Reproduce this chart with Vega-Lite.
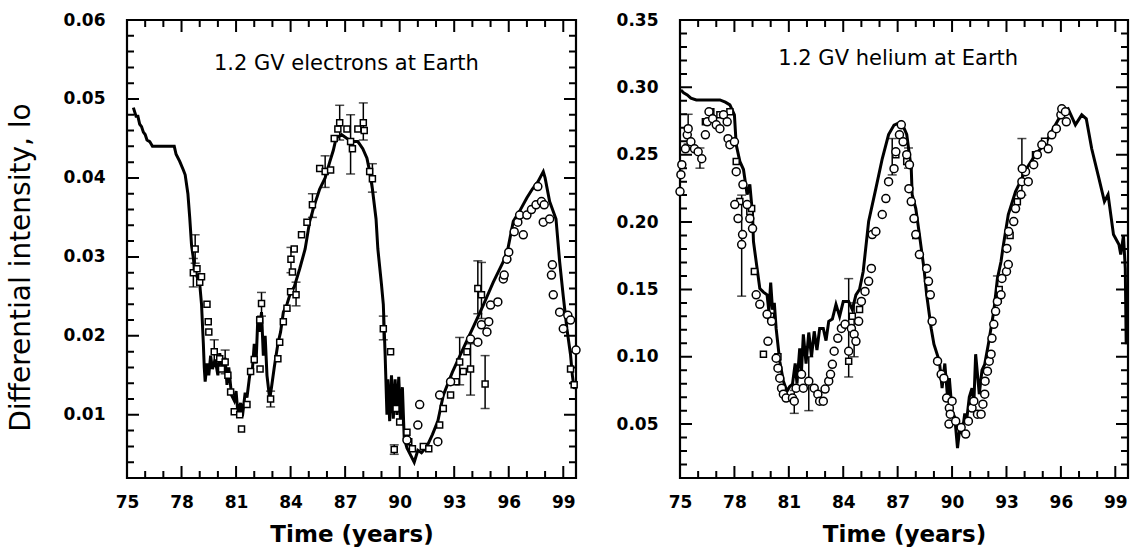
{
  "$schema": "https://vega.github.io/schema/vega-lite/v6.json",
  "padding": {"left": 5, "top": 9, "right": 0, "bottom": 0},
  "background": "white",
  "spacing": 29,
  "config": {
    "view": {"stroke": "black", "strokeWidth": 2.2},
    "axis": {
      "grid": false, "domain": false, "ticks": false,
      "labelFont": "DejaVu Sans", "labelFontWeight": "bold", "labelFontSize": 17, "labelColor": "black",
      "labelOverlap": false, "labelFlush": false, "titleColor": "black"
    }
  },
  "datasets": {
    "xmaj": [{"t":75},{"t":78},{"t":81},{"t":84},{"t":87},{"t":90},{"t":93},{"t":96},{"t":99}],
    "xmin": [{"t":76},{"t":77},{"t":79},{"t":80},{"t":82},{"t":83},{"t":85},{"t":86},{"t":88},{"t":89},{"t":91},{"t":92},{"t":94},{"t":95},{"t":97},{"t":98}],
    "eymaj": [{"v":0.01},{"v":0.02},{"v":0.03},{"v":0.04},{"v":0.05}],
    "eymin": [{"v":0.004},{"v":0.006},{"v":0.008},{"v":0.012},{"v":0.014},{"v":0.016},{"v":0.018},{"v":0.022},{"v":0.024},{"v":0.026},{"v":0.028},{"v":0.032},{"v":0.034},{"v":0.036},{"v":0.038},{"v":0.042},{"v":0.044},{"v":0.046},{"v":0.048},{"v":0.052},{"v":0.054},{"v":0.056},{"v":0.058}],
    "hymaj": [{"v":0.05},{"v":0.1},{"v":0.15},{"v":0.2},{"v":0.25},{"v":0.3}],
    "hymin": [{"v":0.02},{"v":0.03},{"v":0.04},{"v":0.06},{"v":0.07},{"v":0.08},{"v":0.09},{"v":0.11},{"v":0.12},{"v":0.13},{"v":0.14},{"v":0.16},{"v":0.17},{"v":0.18},{"v":0.19},{"v":0.21},{"v":0.22},{"v":0.23},{"v":0.24},{"v":0.26},{"v":0.27},{"v":0.28},{"v":0.29},{"v":0.31},{"v":0.32},{"v":0.33},{"v":0.34}],
    "eline": [
      {"t":75.35,"v":0.0489},{"t":75.5,"v":0.0478},{"t":75.6,"v":0.0478},{"t":75.7,"v":0.0468},{"t":75.8,"v":0.0465},{"t":75.9,"v":0.0458},{"t":76.0,"v":0.0455},{"t":76.1,"v":0.0448},{"t":76.25,"v":0.0446},{"t":76.4,"v":0.044},{"t":77.0,"v":0.044},{"t":77.6,"v":0.044},{"t":77.7,"v":0.043},{"t":77.9,"v":0.0421},{"t":78.1,"v":0.041},{"t":78.2,"v":0.0404},{"t":78.35,"v":0.038},{"t":78.45,"v":0.035},{"t":78.55,"v":0.0315},{"t":78.7,"v":0.029},{"t":78.85,"v":0.0275},{"t":79.0,"v":0.0266},{"t":79.1,"v":0.024},{"t":79.2,"v":0.019},{"t":79.25,"v":0.016},{"t":79.3,"v":0.0142},{"t":79.4,"v":0.0165},{"t":79.5,"v":0.015},{"t":79.6,"v":0.0175},{"t":79.7,"v":0.0158},{"t":79.85,"v":0.017},{"t":80.0,"v":0.015},{"t":80.1,"v":0.0178},{"t":80.25,"v":0.016},{"t":80.4,"v":0.0172},{"t":80.5,"v":0.0138},{"t":80.6,"v":0.016},{"t":80.75,"v":0.0125},{"t":80.9,"v":0.0118},{"t":81.0,"v":0.013},{"t":81.1,"v":0.0102},{"t":81.25,"v":0.0115},{"t":81.35,"v":0.0098},{"t":81.5,"v":0.0128},{"t":81.6,"v":0.0122},{"t":81.75,"v":0.015},{"t":81.9,"v":0.0158},{"t":82.0,"v":0.019},{"t":82.1,"v":0.0165},{"t":82.2,"v":0.0225},{"t":82.3,"v":0.0205},{"t":82.4,"v":0.023},{"t":82.5,"v":0.0175},{"t":82.6,"v":0.02},{"t":82.7,"v":0.015},{"t":82.85,"v":0.012},{"t":82.95,"v":0.0135},{"t":83.1,"v":0.016},{"t":83.3,"v":0.019},{"t":83.45,"v":0.0205},{"t":83.6,"v":0.023},{"t":83.8,"v":0.024},{"t":84.0,"v":0.0255},{"t":84.2,"v":0.0262},{"t":84.5,"v":0.0285},{"t":84.8,"v":0.031},{"t":85.05,"v":0.0345},{"t":85.3,"v":0.0365},{"t":85.6,"v":0.0386},{"t":85.9,"v":0.04},{"t":86.15,"v":0.042},{"t":86.35,"v":0.0435},{"t":86.5,"v":0.045},{"t":86.8,"v":0.0455},{"t":87.1,"v":0.045},{"t":87.4,"v":0.0446},{"t":87.7,"v":0.0446},{"t":87.97,"v":0.0437},{"t":88.2,"v":0.0425},{"t":88.35,"v":0.0408},{"t":88.5,"v":0.0386},{"t":88.7,"v":0.0348},{"t":88.8,"v":0.031},{"t":89.0,"v":0.0265},{"t":89.1,"v":0.024},{"t":89.2,"v":0.0176},{"t":89.3,"v":0.01},{"t":89.35,"v":0.0145},{"t":89.45,"v":0.0092},{"t":89.55,"v":0.015},{"t":89.65,"v":0.0095},{"t":89.75,"v":0.0145},{"t":89.85,"v":0.01},{"t":89.95,"v":0.0148},{"t":90.05,"v":0.009},{"t":90.15,"v":0.0135},{"t":90.25,"v":0.007},{"t":90.4,"v":0.0058},{"t":90.6,"v":0.0049},{"t":90.8,"v":0.004},{"t":91.0,"v":0.0055},{"t":91.2,"v":0.0052},{"t":91.5,"v":0.006},{"t":91.8,"v":0.0075},{"t":92.1,"v":0.0092},{"t":92.4,"v":0.0125},{"t":92.9,"v":0.0154},{"t":93.5,"v":0.0184},{"t":94.0,"v":0.0209},{"t":94.6,"v":0.0239},{"t":95.15,"v":0.0268},{"t":95.7,"v":0.0294},{"t":95.95,"v":0.031},{"t":96.25,"v":0.0345},{"t":96.6,"v":0.0358},{"t":97.0,"v":0.0375},{"t":97.3,"v":0.0386},{"t":97.6,"v":0.0395},{"t":97.9,"v":0.0408},{"t":98.0,"v":0.04},{"t":98.25,"v":0.037},{"t":98.6,"v":0.0348},{"t":98.8,"v":0.0294},{"t":99.0,"v":0.025},{"t":99.2,"v":0.0209},{"t":99.4,"v":0.0176},{"t":99.5,"v":0.015},{"t":99.6,"v":0.0133},{"t":99.7,"v":0.014}
    ],
    "esq": [
      {"t":78.65,"v":0.028},{"t":78.75,"v":0.031},{"t":78.85,"v":0.0285},{"t":79.0,"v":0.0268},{"t":79.1,"v":0.0275},{"t":79.4,"v":0.024},{"t":79.47,"v":0.0218},{"t":79.5,"v":0.0205},{"t":79.8,"v":0.018},{"t":80.1,"v":0.0171},{"t":80.2,"v":0.0158},{"t":80.4,"v":0.0167},{"t":80.55,"v":0.015},{"t":80.7,"v":0.0129},{"t":80.9,"v":0.0104},{"t":81.2,"v":0.01},{"t":81.3,"v":0.0082},{"t":81.6,"v":0.0113},{"t":81.8,"v":0.0155},{"t":82.0,"v":0.017},{"t":82.3,"v":0.022},{"t":82.4,"v":0.0241},{"t":82.32,"v":0.0158},{"t":82.9,"v":0.012},{"t":83.3,"v":0.0171},{"t":83.4,"v":0.0192},{"t":83.6,"v":0.0218},{"t":83.8,"v":0.0235},{"t":84.0,"v":0.0256},{"t":84.1,"v":0.0281},{"t":84.3,"v":0.0252},{"t":84.02,"v":0.0297},{"t":84.2,"v":0.031},{"t":84.6,"v":0.0328},{"t":84.9,"v":0.0344},{"t":85.2,"v":0.0366},{"t":85.6,"v":0.0412},{"t":85.9,"v":0.0408},{"t":86.2,"v":0.041},{"t":86.4,"v":0.045},{"t":86.6,"v":0.0462},{"t":86.7,"v":0.047},{"t":87.1,"v":0.0462},{"t":87.3,"v":0.0446},{"t":87.4,"v":0.0437},{"t":87.7,"v":0.0462},{"t":88.0,"v":0.047},{"t":88.05,"v":0.046},{"t":88.35,"v":0.0408},{"t":88.5,"v":0.0399},{"t":89.1,"v":0.0209},{"t":89.5,"v":0.018},{"t":89.8,"v":0.0108},{"t":90.0,"v":0.0091},{"t":89.7,"v":0.0056},{"t":90.4,"v":0.0078},{"t":90.5,"v":0.0066},{"t":90.7,"v":0.0057},{"t":91.3,"v":0.006},{"t":91.6,"v":0.0057},{"t":92.2,"v":0.0087},{"t":92.4,"v":0.0108},{"t":92.8,"v":0.0125},{"t":93.1,"v":0.0142},{"t":93.3,"v":0.0167},{"t":93.5,"v":0.0155},{"t":93.7,"v":0.018},{"t":93.9,"v":0.0158},{"t":94.3,"v":0.026},{"t":94.5,"v":0.0252},{"t":94.7,"v":0.0139},{"t":99.4,"v":0.0158},{"t":99.6,"v":0.0138}
    ],
    "eerr": [
      {"t":78.75,"lo":0.0292,"hi":0.0328},{"t":78.65,"lo":0.0262,"hi":0.0298},{"t":79.8,"lo":0.0165,"hi":0.0195},{"t":80.4,"lo":0.0152,"hi":0.0182},{"t":82.4,"lo":0.0225,"hi":0.0255},{"t":82.9,"lo":0.011,"hi":0.013},{"t":84.3,"lo":0.0238,"hi":0.0268},{"t":84.02,"lo":0.028,"hi":0.0312},{"t":85.2,"lo":0.035,"hi":0.038},{"t":85.9,"lo":0.0388,"hi":0.0428},{"t":86.7,"lo":0.0448,"hi":0.0492},{"t":87.3,"lo":0.0405,"hi":0.048},{"t":88.0,"lo":0.0448,"hi":0.0495},{"t":88.5,"lo":0.0382,"hi":0.0418},{"t":89.1,"lo":0.0195,"hi":0.0225},{"t":89.7,"lo":0.005,"hi":0.0062},{"t":93.3,"lo":0.0138,"hi":0.0198},{"t":93.9,"lo":0.0125,"hi":0.019},{"t":94.3,"lo":0.0228,"hi":0.0295},{"t":94.5,"lo":0.0222,"hi":0.0293},{"t":94.7,"lo":0.0108,"hi":0.0175}
    ],
    "ecirc": [
      {"t":90.4,"v":0.0068},{"t":91.0,"v":0.0087},{"t":91.1,"v":0.0113},{"t":92.1,"v":0.0066},{"t":92.2,"v":0.0125},{"t":92.8,"v":0.0142},{"t":93.9,"v":0.0196},{"t":94.3,"v":0.0192},{"t":94.5,"v":0.0214},{"t":94.8,"v":0.0205},{"t":94.9,"v":0.0218},{"t":95.0,"v":0.0239},{"t":95.4,"v":0.0243},{"t":95.7,"v":0.0272},{"t":95.75,"v":0.0277},{"t":95.9,"v":0.0297},{"t":96.0,"v":0.0306},{"t":96.3,"v":0.0332},{"t":96.5,"v":0.0344},{"t":96.6,"v":0.0353},{"t":96.8,"v":0.0328},{"t":97.0,"v":0.0353},{"t":97.25,"v":0.036},{"t":97.5,"v":0.0366},{"t":97.6,"v":0.0389},{"t":97.8,"v":0.037},{"t":97.95,"v":0.0366},{"t":97.9,"v":0.0344},{"t":98.25,"v":0.0348},{"t":98.35,"v":0.0277},{"t":98.4,"v":0.029},{"t":98.45,"v":0.0252},{"t":98.8,"v":0.023},{"t":99.0,"v":0.0209},{"t":99.25,"v":0.0226},{"t":99.4,"v":0.022},{"t":99.7,"v":0.0182}
    ],
    "etext": [{"t":87.07,"v":0.0544,"label":"1.2 GV electrons at Earth"}],
    "hline": [
      {"t":75.05,"v":0.298},{"t":75.2,"v":0.296},{"t":75.4,"v":0.2944},{"t":75.6,"v":0.292},{"t":75.9,"v":0.2907},{"t":76.5,"v":0.2907},{"t":77.2,"v":0.2907},{"t":77.5,"v":0.289},{"t":77.75,"v":0.287},{"t":78.0,"v":0.2796},{"t":78.1,"v":0.2574},{"t":78.3,"v":0.245},{"t":78.5,"v":0.239},{"t":78.7,"v":0.2204},{"t":78.85,"v":0.228},{"t":79.0,"v":0.2056},{"t":79.05,"v":0.1856},{"t":79.25,"v":0.1656},{"t":79.4,"v":0.1507},{"t":79.6,"v":0.148},{"t":79.8,"v":0.146},{"t":79.9,"v":0.1337},{"t":80.0,"v":0.155},{"t":80.1,"v":0.135},{"t":80.2,"v":0.14},{"t":80.3,"v":0.121},{"t":80.5,"v":0.0967},{"t":80.7,"v":0.0819},{"t":80.9,"v":0.0744},{"t":81.05,"v":0.078},{"t":81.2,"v":0.0796},{"t":81.35,"v":0.095},{"t":81.45,"v":0.08},{"t":81.6,"v":0.1063},{"t":81.7,"v":0.09},{"t":81.8,"v":0.1167},{"t":81.95,"v":0.095},{"t":82.1,"v":0.118},{"t":82.25,"v":0.1},{"t":82.4,"v":0.1189},{"t":82.55,"v":0.105},{"t":82.7,"v":0.121},{"t":82.9,"v":0.121},{"t":83.05,"v":0.112},{"t":83.2,"v":0.1263},{"t":83.4,"v":0.128},{"t":83.6,"v":0.1389},{"t":83.8,"v":0.13},{"t":84.0,"v":0.141},{"t":84.3,"v":0.141},{"t":84.5,"v":0.135},{"t":84.7,"v":0.146},{"t":84.9,"v":0.15},{"t":85.1,"v":0.1633},{"t":85.4,"v":0.2004},{"t":85.8,"v":0.225},{"t":86.15,"v":0.247},{"t":86.5,"v":0.265},{"t":86.8,"v":0.272},{"t":87.2,"v":0.2744},{"t":87.5,"v":0.265},{"t":87.75,"v":0.2396},{"t":87.8,"v":0.2204},{"t":88.0,"v":0.21},{"t":88.2,"v":0.1907},{"t":88.45,"v":0.1656},{"t":88.6,"v":0.146},{"t":88.85,"v":0.121},{"t":89.0,"v":0.1093},{"t":89.3,"v":0.0967},{"t":89.45,"v":0.0767},{"t":89.6,"v":0.095},{"t":89.75,"v":0.07},{"t":89.85,"v":0.0841},{"t":90.0,"v":0.0596},{"t":90.15,"v":0.055},{"t":90.3,"v":0.0322},{"t":90.45,"v":0.05},{"t":90.55,"v":0.0426},{"t":90.7,"v":0.058},{"t":90.8,"v":0.0522},{"t":90.95,"v":0.07},{"t":91.1,"v":0.0767},{"t":91.2,"v":0.065},{"t":91.3,"v":0.1019},{"t":91.5,"v":0.0722},{"t":91.65,"v":0.09},{"t":91.8,"v":0.0944},{"t":92.0,"v":0.1093},{"t":92.3,"v":0.1337},{"t":92.5,"v":0.1581},{"t":92.7,"v":0.1707},{"t":92.8,"v":0.1804},{"t":93.1,"v":0.2056},{"t":93.5,"v":0.2226},{"t":94.1,"v":0.2396},{"t":94.6,"v":0.25},{"t":95.2,"v":0.2596},{"t":95.7,"v":0.2722},{"t":96.1,"v":0.2819},{"t":96.4,"v":0.2841},{"t":96.8,"v":0.2722},{"t":97.15,"v":0.2796},{"t":97.4,"v":0.2767},{"t":97.7,"v":0.2544},{"t":98.1,"v":0.2322},{"t":98.4,"v":0.2152},{"t":98.6,"v":0.2204},{"t":98.9,"v":0.1907},{"t":99.2,"v":0.1833},{"t":99.3,"v":0.1759},{"t":99.45,"v":0.19},{"t":99.55,"v":0.1656},{"t":99.6,"v":0.1093}
    ],
    "hcirc": [
      {"t":75.0,"v":0.2226},{"t":75.05,"v":0.2352},{"t":75.1,"v":0.2426},{"t":75.3,"v":0.2544},{"t":75.4,"v":0.2648},{"t":75.45,"v":0.2693},{"t":75.6,"v":0.2596},{"t":75.8,"v":0.2544},{"t":76.0,"v":0.2522},{"t":76.2,"v":0.247},{"t":76.4,"v":0.2648},{"t":76.5,"v":0.2744},{"t":76.6,"v":0.2819},{"t":76.8,"v":0.2767},{"t":77.0,"v":0.2722},{"t":77.2,"v":0.2693},{"t":77.4,"v":0.2796},{"t":77.6,"v":0.2744},{"t":77.65,"v":0.2619},{"t":77.75,"v":0.2574},{"t":78.0,"v":0.2596},{"t":78.1,"v":0.2374},{"t":78.02,"v":0.213},{"t":78.2,"v":0.2026},{"t":78.45,"v":0.1907},{"t":78.4,"v":0.1833},{"t":78.47,"v":0.2278},{"t":78.7,"v":0.213},{"t":78.85,"v":0.2026},{"t":79.0,"v":0.1952},{"t":79.2,"v":0.146},{"t":79.4,"v":0.1389},{"t":79.8,"v":0.1315},{"t":79.85,"v":0.1115},{"t":80.05,"v":0.1263},{"t":80.3,"v":0.0989},{"t":80.4,"v":0.0915},{"t":80.5,"v":0.0841},{"t":80.6,"v":0.0767},{"t":80.7,"v":0.0722},{"t":80.85,"v":0.0693},{"t":81.2,"v":0.0693},{"t":81.4,"v":0.0767},{"t":81.3,"v":0.067},{"t":81.7,"v":0.087},{"t":81.8,"v":0.0767},{"t":82.1,"v":0.0819},{"t":82.4,"v":0.0767},{"t":82.6,"v":0.0722},{"t":82.7,"v":0.067},{"t":82.9,"v":0.067},{"t":83.0,"v":0.076},{"t":83.2,"v":0.0819},{"t":83.3,"v":0.087},{"t":83.4,"v":0.0944},{"t":83.5,"v":0.1041},{"t":83.7,"v":0.1137},{"t":83.9,"v":0.121},{"t":84.1,"v":0.1241},{"t":84.3,"v":0.1041},{"t":84.45,"v":0.121},{"t":84.6,"v":0.1167},{"t":84.7,"v":0.1115},{"t":84.85,"v":0.1263},{"t":85.0,"v":0.1411},{"t":85.2,"v":0.1485},{"t":85.4,"v":0.156},{"t":85.55,"v":0.1656},{"t":85.6,"v":0.1907},{"t":85.8,"v":0.193},{"t":86.15,"v":0.2056},{"t":86.35,"v":0.2174},{"t":86.5,"v":0.23},{"t":86.8,"v":0.2396},{"t":86.9,"v":0.2522},{"t":87.1,"v":0.2648},{"t":87.2,"v":0.2722},{"t":87.3,"v":0.2596},{"t":87.5,"v":0.25},{"t":87.65,"v":0.2426},{"t":87.62,"v":0.2248},{"t":87.75,"v":0.2152},{"t":87.9,"v":0.2026},{"t":88.0,"v":0.1907},{"t":88.2,"v":0.1759},{"t":88.6,"v":0.1656},{"t":88.7,"v":0.156},{"t":88.8,"v":0.146},{"t":88.9,"v":0.1263},{"t":89.2,"v":0.0967},{"t":89.4,"v":0.087},{"t":89.55,"v":0.0841},{"t":89.7,"v":0.0693},{"t":89.85,"v":0.0619},{"t":89.9,"v":0.0574},{"t":89.83,"v":0.05},{"t":90.0,"v":0.067},{"t":90.2,"v":0.0522},{"t":90.5,"v":0.0474},{"t":90.75,"v":0.0426},{"t":90.9,"v":0.0522},{"t":91.1,"v":0.0619},{"t":91.2,"v":0.067},{"t":91.4,"v":0.0574},{"t":91.6,"v":0.0574},{"t":91.7,"v":0.0648},{"t":91.8,"v":0.0722},{"t":91.82,"v":0.0819},{"t":91.95,"v":0.0893},{"t":92.05,"v":0.0967},{"t":92.15,"v":0.1019},{"t":92.2,"v":0.1137},{"t":92.3,"v":0.1241},{"t":92.4,"v":0.1337},{"t":92.5,"v":0.1411},{"t":92.7,"v":0.146},{"t":92.75,"v":0.1581},{"t":93.0,"v":0.1633},{"t":93.1,"v":0.1685},{"t":93.02,"v":0.1804},{"t":93.12,"v":0.193},{"t":93.4,"v":0.2004},{"t":93.5,"v":0.21},{"t":93.8,"v":0.2204},{"t":93.85,"v":0.23},{"t":94.05,"v":0.2374},{"t":93.87,"v":0.2396},{"t":94.2,"v":0.23},{"t":94.5,"v":0.2426},{"t":94.7,"v":0.25},{"t":94.95,"v":0.2574},{"t":95.3,"v":0.2544},{"t":95.5,"v":0.2648},{"t":95.75,"v":0.2693},{"t":96.0,"v":0.2796},{"t":96.05,"v":0.2841},{"t":96.25,"v":0.2819},{"t":96.3,"v":0.2744}
    ],
    "hsq": [
      {"t":76.4,"v":0.2744},{"t":76.7,"v":0.2819},{"t":77.2,"v":0.2796},{"t":77.75,"v":0.2819},{"t":78.1,"v":0.245},{"t":78.3,"v":0.2152},{"t":78.85,"v":0.2078},{"t":78.95,"v":0.21},{"t":79.1,"v":0.1633},{"t":79.6,"v":0.1019},{"t":80.0,"v":0.13},{"t":80.4,"v":0.1},{"t":84.3,"v":0.0967},{"t":84.5,"v":0.13},{"t":84.9,"v":0.135},{"t":86.9,"v":0.25},{"t":87.5,"v":0.245},{"t":88.0,"v":0.19},{"t":92.6,"v":0.15},{"t":93.2,"v":0.19},{"t":93.6,"v":0.215},{"t":94.6,"v":0.25},{"t":95.1,"v":0.26}
    ],
    "herr": [
      {"t":75.45,"lo":0.258,"hi":0.28},{"t":76.1,"lo":0.24,"hi":0.255},{"t":78.4,"lo":0.145,"hi":0.22},{"t":81.3,"lo":0.058,"hi":0.075},{"t":82.1,"lo":0.06,"hi":0.1},{"t":84.3,"lo":0.085,"hi":0.158},{"t":84.6,"lo":0.1,"hi":0.14},{"t":86.7,"lo":0.235,"hi":0.262},{"t":87.6,"lo":0.24,"hi":0.255},{"t":93.85,"lo":0.22,"hi":0.262},{"t":92.5,"lo":0.14,"hi":0.16}
    ],
    "htext": [{"t":87.03,"v":0.321,"label":"1.2 GV helium at Earth"}]
  },
  "hconcat": [
    {
      "width": 449, "height": 458,
      "layer": [
        {
          "data": {"name": "xmaj"},
          "mark": {"type": "rule", "color": "black", "strokeWidth": 2, "strokeDash": [12, 434, 12, 3000]},
          "encoding": {
            "x": {"field": "t", "type": "quantitative", "scale": {"domain": [75, 99.7], "nice": false, "zero": false}},
            "y": {"datum": 0.002, "type": "quantitative", "scale": {"domain": [0.002, 0.06], "nice": false, "zero": false}},
            "y2": {"datum": 0.06}
          }
        },
        {
          "data": {"name": "xmin"},
          "mark": {"type": "rule", "color": "black", "strokeWidth": 2, "strokeDash": [7, 444, 7, 3000]},
          "encoding": {
            "x": {"field": "t", "type": "quantitative", "scale": {"domain": [75, 99.7], "nice": false, "zero": false}},
            "y": {"datum": 0.002, "type": "quantitative", "scale": {"domain": [0.002, 0.06], "nice": false, "zero": false}},
            "y2": {"datum": 0.06}
          }
        },
        {
          "data": {"name": "eymaj"},
          "mark": {"type": "rule", "color": "black", "strokeWidth": 2, "strokeDash": [12, 425, 12, 3000]},
          "encoding": {
            "y": {"field": "v", "type": "quantitative", "scale": {"domain": [0.002, 0.06], "nice": false, "zero": false}},
            "x": {"datum": 75, "type": "quantitative", "scale": {"domain": [75, 99.7], "nice": false, "zero": false}},
            "x2": {"datum": 99.7}
          }
        },
        {
          "data": {"name": "eymin"},
          "mark": {"type": "rule", "color": "black", "strokeWidth": 2, "strokeDash": [7, 435, 7, 3000]},
          "encoding": {
            "y": {"field": "v", "type": "quantitative", "scale": {"domain": [0.002, 0.06], "nice": false, "zero": false}},
            "x": {"datum": 75, "type": "quantitative", "scale": {"domain": [75, 99.7], "nice": false, "zero": false}},
            "x2": {"datum": 99.7}
          }
        },
        {
          "data": {"name": "eline"},
          "mark": {"type": "line", "color": "black", "strokeWidth": 3},
          "encoding": {
            "x": {"field": "t", "type": "quantitative", "scale": {"domain": [75, 99.7], "nice": false, "zero": false},
              "axis": {"orient": "bottom", "values": [75,78,81,84,87,90,93,96,99], "ticks": false, "labelPadding": 16,
                "title": "Time (years)", "titleFont": "DejaVu Sans", "titleFontWeight": "bold", "titleFontSize": 23, "titlePadding": 13}},
            "y": {"field": "v", "type": "quantitative", "scale": {"domain": [0.002, 0.06], "nice": false, "zero": false},
              "axis": {"orient": "left", "values": [0.01,0.02,0.03,0.04,0.05,0.06], "format": ".2f", "ticks": false, "labelPadding": 22,
                "title": "Differential intensity", "titleFont": "DejaVu Sans", "titleFontWeight": "normal", "titleFontSize": 28, "titlePadding": 28, "titleY": 247}}
          }
        },
        {
          "data": {"name": "eerr"},
          "mark": {"type": "errorbar", "color": "black", "thickness": 1.5, "ticks": {"size": 9, "thickness": 1.5}},
          "encoding": {
            "x": {"field": "t", "type": "quantitative", "scale": {"domain": [75, 99.7], "nice": false, "zero": false}},
            "y": {"field": "lo", "type": "quantitative", "scale": {"domain": [0.002, 0.06], "nice": false, "zero": false}},
            "y2": {"field": "hi"}
          }
        },
        {
          "data": {"name": "esq"},
          "mark": {"type": "point", "shape": "square", "size": 36, "filled": true, "fill": "white", "stroke": "black", "strokeWidth": 1.5, "opacity": 1},
          "encoding": {
            "x": {"field": "t", "type": "quantitative", "scale": {"domain": [75, 99.7], "nice": false, "zero": false}},
            "y": {"field": "v", "type": "quantitative", "scale": {"domain": [0.002, 0.06], "nice": false, "zero": false}}
          }
        },
        {
          "data": {"name": "ecirc"},
          "mark": {"type": "point", "shape": "circle", "size": 64, "filled": true, "fill": "white", "stroke": "black", "strokeWidth": 1.5, "opacity": 1},
          "encoding": {
            "x": {"field": "t", "type": "quantitative", "scale": {"domain": [75, 99.7], "nice": false, "zero": false}},
            "y": {"field": "v", "type": "quantitative", "scale": {"domain": [0.002, 0.06], "nice": false, "zero": false}}
          }
        },
        {
          "data": {"name": "etext"},
          "mark": {"type": "text", "font": "DejaVu Sans", "fontSize": 21, "align": "center", "baseline": "middle", "color": "black"},
          "encoding": {
            "x": {"field": "t", "type": "quantitative", "scale": {"domain": [75, 99.7], "nice": false, "zero": false}},
            "y": {"field": "v", "type": "quantitative", "scale": {"domain": [0.002, 0.06], "nice": false, "zero": false}},
            "text": {"field": "label"}
          }
        }
      ]
    },
    {
      "width": 448, "height": 458,
      "layer": [
        {
          "data": {"name": "xmaj"},
          "mark": {"type": "rule", "color": "black", "strokeWidth": 2, "strokeDash": [12, 434, 12, 3000]},
          "encoding": {
            "x": {"field": "t", "type": "quantitative", "scale": {"domain": [75, 99.7], "nice": false, "zero": false}},
            "y": {"datum": 0.01, "type": "quantitative", "scale": {"domain": [0.01, 0.35], "nice": false, "zero": false}},
            "y2": {"datum": 0.35}
          }
        },
        {
          "data": {"name": "xmin"},
          "mark": {"type": "rule", "color": "black", "strokeWidth": 2, "strokeDash": [7, 444, 7, 3000]},
          "encoding": {
            "x": {"field": "t", "type": "quantitative", "scale": {"domain": [75, 99.7], "nice": false, "zero": false}},
            "y": {"datum": 0.01, "type": "quantitative", "scale": {"domain": [0.01, 0.35], "nice": false, "zero": false}},
            "y2": {"datum": 0.35}
          }
        },
        {
          "data": {"name": "hymaj"},
          "mark": {"type": "rule", "color": "black", "strokeWidth": 2, "strokeDash": [12, 424, 12, 3000]},
          "encoding": {
            "y": {"field": "v", "type": "quantitative", "scale": {"domain": [0.01, 0.35], "nice": false, "zero": false}},
            "x": {"datum": 75, "type": "quantitative", "scale": {"domain": [75, 99.7], "nice": false, "zero": false}},
            "x2": {"datum": 99.7}
          }
        },
        {
          "data": {"name": "hymin"},
          "mark": {"type": "rule", "color": "black", "strokeWidth": 2, "strokeDash": [7, 434, 7, 3000]},
          "encoding": {
            "y": {"field": "v", "type": "quantitative", "scale": {"domain": [0.01, 0.35], "nice": false, "zero": false}},
            "x": {"datum": 75, "type": "quantitative", "scale": {"domain": [75, 99.7], "nice": false, "zero": false}},
            "x2": {"datum": 99.7}
          }
        },
        {
          "data": {"name": "hline"},
          "mark": {"type": "line", "color": "black", "strokeWidth": 3},
          "encoding": {
            "x": {"field": "t", "type": "quantitative", "scale": {"domain": [75, 99.7], "nice": false, "zero": false},
              "axis": {"orient": "bottom", "values": [75,78,81,84,87,90,93,96,99], "ticks": false, "labelPadding": 16,
                "title": "Time (years)", "titleFont": "DejaVu Sans", "titleFontWeight": "bold", "titleFontSize": 23, "titlePadding": 13}},
            "y": {"field": "v", "type": "quantitative", "scale": {"domain": [0.01, 0.35], "nice": false, "zero": false},
              "axis": {"orient": "left", "values": [0.05,0.1,0.15,0.2,0.25,0.3,0.35], "format": ".2f", "ticks": false, "labelPadding": 22, "title": null}}
          }
        },
        {
          "data": {"name": "herr"},
          "mark": {"type": "errorbar", "color": "black", "thickness": 1.5, "ticks": {"size": 9, "thickness": 1.5}},
          "encoding": {
            "x": {"field": "t", "type": "quantitative", "scale": {"domain": [75, 99.7], "nice": false, "zero": false}},
            "y": {"field": "lo", "type": "quantitative", "scale": {"domain": [0.01, 0.35], "nice": false, "zero": false}},
            "y2": {"field": "hi"}
          }
        },
        {
          "data": {"name": "hsq"},
          "mark": {"type": "point", "shape": "square", "size": 36, "filled": true, "fill": "white", "stroke": "black", "strokeWidth": 1.5, "opacity": 1},
          "encoding": {
            "x": {"field": "t", "type": "quantitative", "scale": {"domain": [75, 99.7], "nice": false, "zero": false}},
            "y": {"field": "v", "type": "quantitative", "scale": {"domain": [0.01, 0.35], "nice": false, "zero": false}}
          }
        },
        {
          "data": {"name": "hcirc"},
          "mark": {"type": "point", "shape": "circle", "size": 64, "filled": true, "fill": "white", "stroke": "black", "strokeWidth": 1.5, "opacity": 1},
          "encoding": {
            "x": {"field": "t", "type": "quantitative", "scale": {"domain": [75, 99.7], "nice": false, "zero": false}},
            "y": {"field": "v", "type": "quantitative", "scale": {"domain": [0.01, 0.35], "nice": false, "zero": false}}
          }
        },
        {
          "data": {"name": "htext"},
          "mark": {"type": "text", "font": "DejaVu Sans", "fontSize": 21, "align": "center", "baseline": "middle", "color": "black"},
          "encoding": {
            "x": {"field": "t", "type": "quantitative", "scale": {"domain": [75, 99.7], "nice": false, "zero": false}},
            "y": {"field": "v", "type": "quantitative", "scale": {"domain": [0.01, 0.35], "nice": false, "zero": false}},
            "text": {"field": "label"}
          }
        }
      ]
    }
  ]
}
